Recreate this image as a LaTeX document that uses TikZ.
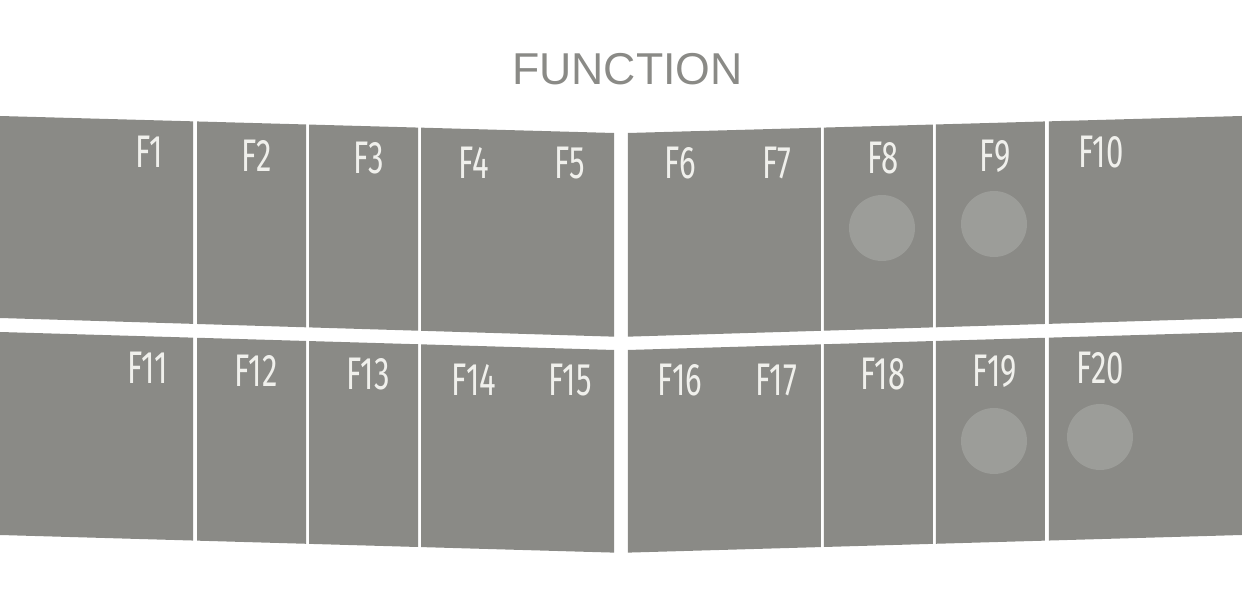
\documentclass[tikz,border=0pt]{standalone}
\usepackage{fontspec}
\setmainfont{Liberation Sans}
\newfontfamily\keyfont[FakeStretch=0.68]{Fira Sans}
\definecolor{keygray}{HTML}{8A8A86}
\definecolor{ledgray}{HTML}{9C9D99}
\definecolor{labelgray}{HTML}{F0F0EC}

\begin{document}
\begin{tikzpicture}[
		x=0.02cm, y=-0.02cm,
		keyface/.style={fill=keygray, draw=none},
		led/.style={circle, fill=ledgray, draw=none, minimum size=1.32cm, inner sep=0pt},
		keylabel/.style={anchor=base, text=labelgray, inner sep=0pt, font=\keyfont\fontsize{26}{26}\selectfont},
		title/.style={anchor=base, text=keygray, inner sep=0pt, font=\fontsize{25.4}{26}\selectfont}
		]
		
		\useasboundingbox (0,0) rectangle (1242,604);
		
		% Title
		\node[title] (function) at (627.5,85) {FUNCTION};
		
		% Left half of the keys
		\begin{scope}
			\foreach \xa/\xb in {0/193, 197/306, 309/418, 421/614}{
				\fill[keyface] (\xa,{116+0.0277*\xa}) -- (\xb,{116+0.0277*\xb}) -- (\xb,{318+0.0304*\xb}) -- (\xa,{318+0.0304*\xa}) -- cycle;
				\fill[keyface] (\xa,{332+0.0293*\xa}) -- (\xb,{332+0.0293*\xb}) -- (\xb,{535+0.0287*\xb}) -- (\xa,{535+0.0287*\xa}) -- cycle;
			}
		\end{scope}
		
		% Right half of the keys (mirrored)
		\begin{scope}[xshift=24.84cm, xscale=-1]
			\foreach \xa/\xb in {0/193, 197/306, 309/418, 421/614}{
				\fill[keyface] (\xa,{116+0.0277*\xa}) -- (\xb,{116+0.0277*\xb}) -- (\xb,{318+0.0304*\xb}) -- (\xa,{318+0.0304*\xa}) -- cycle;
				\fill[keyface] (\xa,{332+0.0293*\xa}) -- (\xb,{332+0.0293*\xb}) -- (\xb,{535+0.0287*\xb}) -- (\xa,{535+0.0287*\xa}) -- cycle;
			}
		\end{scope}
		
		% Lights
		\node[led] (led8) at (882,228) {};
		\node[led] (led9) at (994,224) {};
		\node[led] (led19) at (994,441) {};
		\node[led] (led20) at (1100,437) {};
		
		% Key labels
		\foreach \n/\x/\y in {1/149/168, 2/257/172, 3/369/174, 4/474/179, 5/570/179,
			6/680/179, 7/777/179, 8/883/174, 9/995/172, 10/1101/168,
			11/148/384, 12/256/387, 13/368/390, 14/474/396, 15/570/396,
			16/680/396, 17/776/396, 18/883/390, 19/995/387, 20/1100/384}{
			\node[keylabel] (f\n) at (\x,\y) {F\n};
		}
		
	\end{tikzpicture}
\end{document}
